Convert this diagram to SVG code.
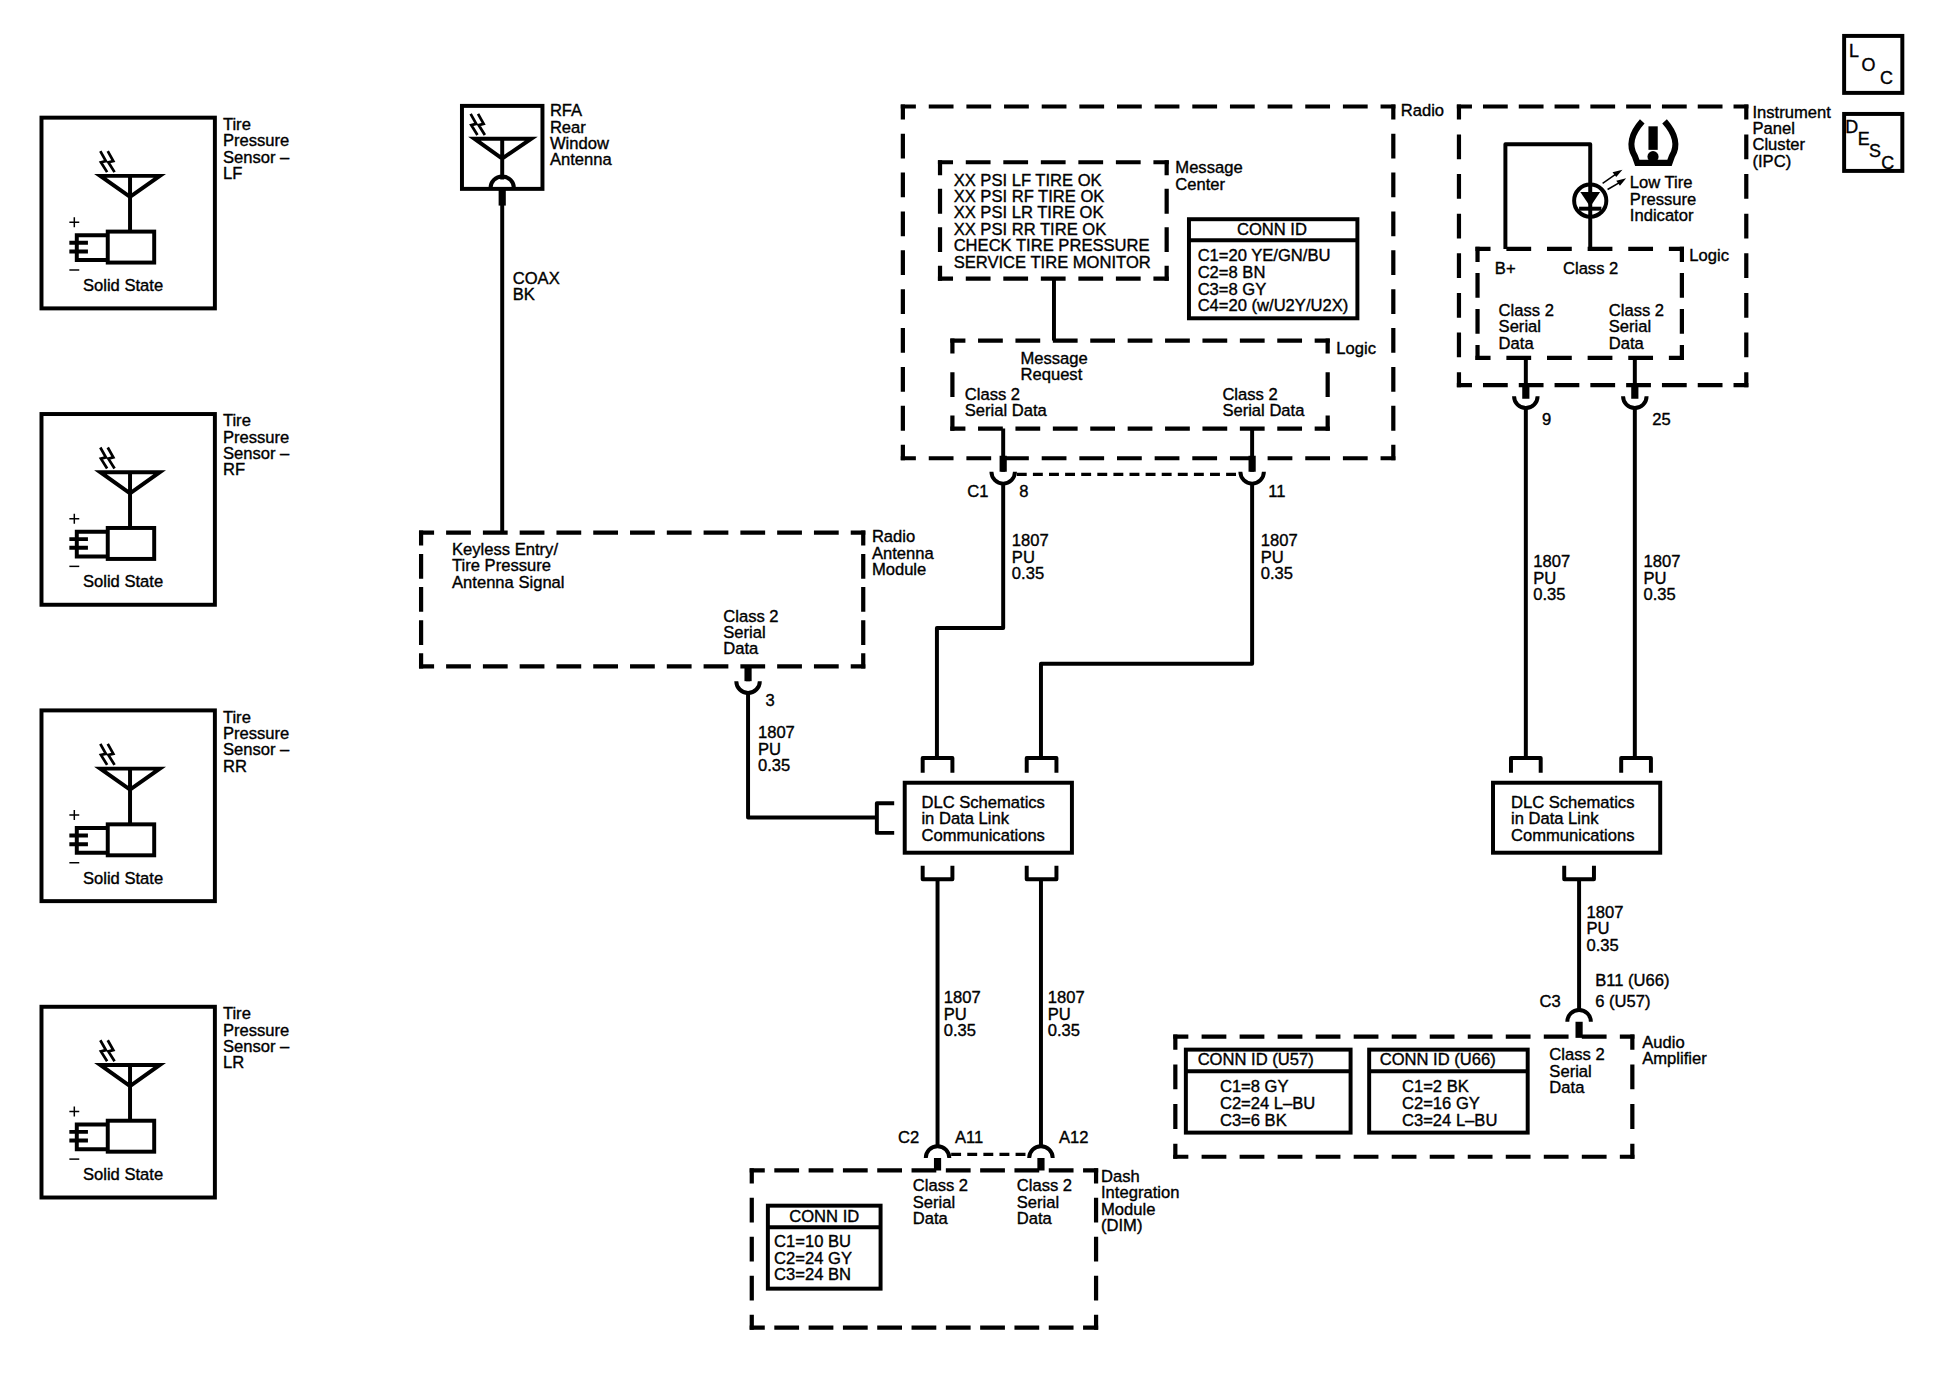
<svg xmlns="http://www.w3.org/2000/svg" xmlns:xlink="http://www.w3.org/1999/xlink" width="1942" height="1376" viewBox="0 0 1942 1376">
<style>
text{font-family:"Liberation Sans",Arial,sans-serif;font-size:13.4px;fill:#000;stroke:#000;stroke-width:.3px}
.ln{fill:none;stroke:#000;stroke-width:3.2}
.box{fill:#fff;stroke:#000;stroke-width:3.2}
.d{fill:none;stroke:#000;stroke-width:3.4;stroke-dashoffset:7.8}
.w{fill:none;stroke:#000;stroke-width:3.2;stroke-linejoin:round}
.th{fill:none;stroke:#000;stroke-width:5.8}
.s{fill:none;stroke:#000;stroke-width:2.2}
.t{fill:none;stroke:#000;stroke-width:1.2}
.dl{fill:none;stroke:#000;stroke-width:2.6;stroke-dasharray:8 5}
.b{font-size:14.5px}
</style>
<defs>
<path id="ltn" class="s" d="M2 0L6.500 8L2.500 9L7.500 17M8 0L12.500 8L8.500 9L13.500 17"/>
<g id="sensorbody">
<rect class="box" x="33.500" y="95" width="140" height="154"/>
<use xlink:href="#ltn" href="#ltn" x="79" y="122"/>
<path class="ln" d="M81 142H129L105 159ZM105 142V187"/>
<rect class="box" x="87" y="187" width="37.500" height="25"/>
<path class="ln" d="M87 190H62V210H87M56 196H71M56 203H71"/>
<path class="t" d="M56 179.500H64M60 175.500V183.500"/>
<path class="t" d="M56 218H64"/>
</g>
<path id="cup" class="w" d="M-9.500 0A9.500 9.500 0 0 0 9.500 0"/>
<path id="cap" class="w" d="M-9.500 0A9.500 9.500 0 0 1 9.500 0"/>
</defs>
<rect width="1942" height="1376" fill="#fff"/>
<g transform="scale(1.2385)">

<g id="sensor-lf"><use xlink:href="#sensorbody" href="#sensorbody"/>
<text x="67" y="235">Solid State</text>
<text y="105"><tspan x="180">Tire</tspan><tspan x="180" dy="13.200">Pressure</tspan><tspan x="180" dy="13.200">Sensor –</tspan><tspan x="180" dy="13.200">LF</tspan></text></g>
<g id="sensor-rf" transform="translate(0 239.300)"><use xlink:href="#sensorbody" href="#sensorbody"/>
<text x="67" y="235">Solid State</text>
<text y="105"><tspan x="180">Tire</tspan><tspan x="180" dy="13.200">Pressure</tspan><tspan x="180" dy="13.200">Sensor –</tspan><tspan x="180" dy="13.200">RF</tspan></text></g>
<g id="sensor-rr" transform="translate(0 478.600)"><use xlink:href="#sensorbody" href="#sensorbody"/>
<text x="67" y="235">Solid State</text>
<text y="105"><tspan x="180">Tire</tspan><tspan x="180" dy="13.200">Pressure</tspan><tspan x="180" dy="13.200">Sensor –</tspan><tspan x="180" dy="13.200">RR</tspan></text></g>
<g id="sensor-lr" transform="translate(0 717.900)"><use xlink:href="#sensorbody" href="#sensorbody"/>
<text x="67" y="235">Solid State</text>
<text y="105"><tspan x="180">Tire</tspan><tspan x="180" dy="13.200">Pressure</tspan><tspan x="180" dy="13.200">Sensor –</tspan><tspan x="180" dy="13.200">LR</tspan></text></g>

<g id="rfa-antenna">
<rect class="box" x="373" y="85.500" width="65" height="67"/>
<use xlink:href="#ltn" href="#ltn" x="378" y="92"/>
<path class="ln" d="M383 112H429L405.500 128ZM405.500 112V145"/>
<path class="w" d="M396 152A9.500 9.500 0 0 1 415 152"/>
<text y="94"><tspan x="444">RFA</tspan><tspan x="444" dy="13.200">Rear</tspan><tspan x="444" dy="13.200">Window</tspan><tspan x="444" dy="13.200">Antenna</tspan></text>
</g>

<g id="radio">
<path class="d" stroke-dasharray="20 10.400" d="M727.300 86H1126.700M727.300 370H1126.700"/>
<path class="d" stroke-dasharray="20 11.400" d="M729 84.300V371.700M1125 84.300V371.700"/>
<text x="1131" y="94">Radio</text>
</g>
<g id="message-center">
<path class="d" stroke-dasharray="20 10.300" d="M757.300 131H943.700M757.300 225H943.700"/>
<path class="d" stroke-dasharray="20 11" d="M759 129.300V226.700M942 129.300V226.700"/>
<text y="150"><tspan x="770">XX PSI LF TIRE OK</tspan><tspan x="770" dy="13.200">XX PSI RF TIRE OK</tspan><tspan x="770" dy="13.200">XX PSI LR TIRE OK</tspan><tspan x="770" dy="13.200">XX PSI RR TIRE OK</tspan><tspan x="770" dy="13.200">CHECK TIRE PRESSURE</tspan><tspan x="770" dy="13.200">SERVICE TIRE MONITOR</tspan></text>
<text y="140"><tspan x="949">Message</tspan><tspan x="949" dy="13.200">Center</tspan></text>
</g>
<g id="radio-conn-id">
<rect class="box" x="960" y="177" width="136" height="80"/>
<path class="ln" d="M960 194H1096"/>
<text x="1027" y="190" text-anchor="middle">CONN ID</text>
<text y="211"><tspan x="967">C1=20 YE/GN/BU</tspan><tspan x="967" dy="13.400">C2=8 BN</tspan><tspan x="967" dy="13.400">C3=8 GY</tspan><tspan x="967" dy="13.400">C4=20 (w/U2Y/U2X)</tspan></text>
</g>
<g id="radio-logic">
<path class="d" stroke-dasharray="20 10.200" d="M767.300 275H1073.700M767.300 346H1073.700"/>
<path class="d" stroke-dasharray="20 15" d="M769 273.300V347.700M1072 273.300V347.700"/>
<text x="1079" y="286">Logic</text>
<text y="294"><tspan x="824">Message</tspan><tspan x="824" dy="13.200">Request</tspan></text>
<text y="323"><tspan x="779">Class 2</tspan><tspan x="779" dy="13.200">Serial Data</tspan></text>
<text y="323"><tspan x="987">Class 2</tspan><tspan x="987" dy="13.200">Serial Data</tspan></text>
</g>

<g id="antenna-module">
<path class="d" stroke-dasharray="20 9.700" d="M338.300 430H698.700M338.300 538H698.700"/>
<path class="d" stroke-dasharray="20 6.750" d="M340 428.300V539.700M697 428.300V539.700"/>
<text y="448"><tspan x="365">Keyless Entry/</tspan><tspan x="365" dy="13.200">Tire Pressure</tspan><tspan x="365" dy="13.200">Antenna Signal</tspan></text>
<text y="502"><tspan x="584">Class 2</tspan><tspan x="584" dy="13.200">Serial</tspan><tspan x="584" dy="13.200">Data</tspan></text>
<text y="438"><tspan x="704">Radio</tspan><tspan x="704" dy="13.200">Antenna</tspan><tspan x="704" dy="13.200">Module</tspan></text>
</g>

<g id="dlc-left">
<rect class="box" x="730.500" y="632" width="135" height="56.500"/>
<text y="652"><tspan x="744">DLC Schematics</tspan><tspan x="744" dy="13.400">in Data Link</tspan><tspan x="744" dy="13.400">Communications</tspan></text>
</g>
<g id="dlc-right">
<rect class="box" x="1205.500" y="632" width="135" height="56.500"/>
<text y="652"><tspan x="1220">DLC Schematics</tspan><tspan x="1220" dy="13.400">in Data Link</tspan><tspan x="1220" dy="13.400">Communications</tspan></text>
</g>

<g id="dim">
<path class="d" stroke-dasharray="20 7.700" d="M605.300 945H886.700M605.300 1072H886.700"/>
<path class="d" stroke-dasharray="20 11.500" d="M607 943.300V1073.700M885 943.300V1073.700"/>
<text y="962"><tspan x="737">Class 2</tspan><tspan x="737" dy="13.200">Serial</tspan><tspan x="737" dy="13.200">Data</tspan></text>
<text y="962"><tspan x="821">Class 2</tspan><tspan x="821" dy="13.200">Serial</tspan><tspan x="821" dy="13.200">Data</tspan></text>
<text y="954.500"><tspan x="889">Dash</tspan><tspan x="889" dy="13.200">Integration</tspan><tspan x="889" dy="13.200">Module</tspan><tspan x="889" dy="13.200">(DIM)</tspan></text>
</g>
<g id="dim-conn-id">
<rect class="box" x="620" y="973.500" width="91" height="67"/>
<path class="ln" d="M620 991H711"/>
<text x="665.500" y="987" text-anchor="middle">CONN ID</text>
<text y="1007"><tspan x="625">C1=10 BU</tspan><tspan x="625" dy="13.400">C2=24 GY</tspan><tspan x="625" dy="13.400">C3=24 BN</tspan></text>
</g>

<g id="ipc">
<path class="d" stroke-dasharray="20 8.900" d="M1176.300 86H1411.700M1176.300 311H1411.700"/>
<path class="d" stroke-dasharray="20 12" d="M1178 84.300V312.700M1410 84.300V312.700"/>
<text y="95"><tspan x="1415">Instrument</tspan><tspan x="1415" dy="13.200">Panel</tspan><tspan x="1415" dy="13.200">Cluster</tspan><tspan x="1415" dy="13.200">(IPC)</tspan></text>
</g>
<g id="low-tire-indicator">
<path d="M1326 98C1317 108 1315 118 1320 126L1322 131.500H1348L1350 126C1355 118 1353 108 1344 98" fill="none" stroke="#000" stroke-width="5"/>
<path d="M1331 102H1338.500V121H1331Z"/>
<circle cx="1334.700" cy="126.500" r="4.500"/>
<circle cx="1284" cy="162" r="13" class="ln"/>
<path d="M1276 155H1292L1284 167Z"/>
<path class="ln" d="M1275 168.500H1293"/>
<path class="t" d="M1294 148L1307 139M1298 153L1310 146"/>
<path d="M1310 137L1302 139L1305 143ZM1313 144L1305 146L1308 150Z"/>
<text y="152"><tspan x="1316">Low Tire</tspan><tspan x="1316" dy="13.300">Pressure</tspan><tspan x="1316" dy="13.300">Indicator</tspan></text>
</g>
<g id="ipc-logic">
<path class="d" stroke-dasharray="20 12.800" d="M1191.300 201H1359.700M1191.300 289H1359.700"/>
<path class="d" stroke-dasharray="20 9" d="M1193 199.300V290.700M1358 199.300V290.700"/>
<text x="1364" y="211">Logic</text>
<text x="1207" y="221">B+</text>
<text x="1262" y="221">Class 2</text>
<text y="255"><tspan x="1210">Class 2</tspan><tspan x="1210" dy="13.200">Serial</tspan><tspan x="1210" dy="13.200">Data</tspan></text>
<text y="255"><tspan x="1299">Class 2</tspan><tspan x="1299" dy="13.200">Serial</tspan><tspan x="1299" dy="13.200">Data</tspan></text>
</g>

<g id="audio-amplifier">
<path class="d" stroke-dasharray="20 10.700" d="M947.300 837H1319.700M947.300 934H1319.700"/>
<path class="d" stroke-dasharray="20 12" d="M949 835.300V935.700M1318 835.300V935.700"/>
<text y="856"><tspan x="1251">Class 2</tspan><tspan x="1251" dy="13.200">Serial</tspan><tspan x="1251" dy="13.200">Data</tspan></text>
<text y="846"><tspan x="1326">Audio</tspan><tspan x="1326" dy="13.200">Amplifier</tspan></text>
</g>
<g id="u57-conn-id">
<rect class="box" x="957.500" y="847.500" width="133" height="67"/>
<path class="ln" d="M957.500 865H1090.500"/>
<text x="967" y="860">CONN ID (U57)</text>
<text y="882"><tspan x="985">C1=8 GY</tspan><tspan x="985" dy="13.400">C2=24 L–BU</tspan><tspan x="985" dy="13.400">C3=6 BK</tspan></text>
</g>
<g id="u66-conn-id">
<rect class="box" x="1105.500" y="847.500" width="128" height="67"/>
<path class="ln" d="M1105.500 865H1233.500"/>
<text x="1114" y="860">CONN ID (U66)</text>
<text y="882"><tspan x="1132">C1=2 BK</tspan><tspan x="1132" dy="13.400">C2=16 GY</tspan><tspan x="1132" dy="13.400">C3=24 L–BU</tspan></text>
</g>

<g id="loc"><rect class="box" x="1489" y="29" width="47" height="46"/>
<text class="b" x="1493" y="46">L</text><text class="b" x="1503" y="57">O</text><text class="b" x="1518" y="68">C</text></g>
<g id="desc"><rect class="box" x="1489" y="92" width="47" height="46"/>
<text class="b" x="1490" y="107">D</text><text class="b" x="1500" y="117">E</text><text class="b" x="1509" y="127">S</text><text class="b" x="1519" y="136.500">C</text></g>

<g id="connectors">
<path class="w" d="M405.500 152V430"/>
<path class="th" d="M405.500 152V166"/>
<path class="w" d="M851 225V275"/>
<path class="w" d="M810 346V381M810 390V507H756.500V612M745 624V612H769V624"/>
<path class="w" d="M1011 346V381M1011 390V536H840.500V612M829 624V612H853V624"/>
<path class="th" d="M810 368V381M1011 368V381"/>
<use xlink:href="#cup" href="#cup" x="810" y="381"/>
<use xlink:href="#cup" href="#cup" x="1011" y="381"/>
<path class="dl" d="M821 383H1001"/>
<path class="w" d="M604 538V550M604 559V660H708M722 648.500H708V672.500H722"/>
<path class="th" d="M604 538V550"/>
<use xlink:href="#cup" href="#cup" x="604" y="550"/>
<path class="w" d="M745 699V710H769V699M757 710V926"/>
<path class="w" d="M829 699V710H853V699M840.500 710V926"/>
<use xlink:href="#cap" href="#cap" x="757" y="935"/>
<use xlink:href="#cap" href="#cap" x="840.500" y="935"/>
<path class="th" d="M757 935V945M840.500 935V945"/>
<path class="dl" d="M768 932H830"/>
<path class="w" d="M1215.500 201V116.500H1284V201"/>
<path class="w" d="M1232 289V320M1232 329V612M1220 624V612H1244V624"/>
<path class="w" d="M1320 289V320M1320 329V612M1309 624V612H1333V624"/>
<path class="th" d="M1232 311V322M1320 311V322"/>
<use xlink:href="#cup" href="#cup" x="1232" y="320"/>
<use xlink:href="#cup" href="#cup" x="1320" y="320"/>
<path class="w" d="M1263 699V710H1287V699M1275 710V816"/>
<use xlink:href="#cap" href="#cap" x="1275" y="825"/>
<path class="th" d="M1275 825V838"/>
</g>

<g id="connector-labels">
<text y="229"><tspan x="414">COAX</tspan><tspan x="414" dy="13.200">BK</tspan></text>
<text x="781" y="401">C1</text><text x="823" y="401">8</text><text x="1024" y="401">11</text>
<text y="441"><tspan x="817">1807</tspan><tspan x="817" dy="13.400">PU</tspan><tspan x="817" dy="13.400">0.35</tspan></text>
<text y="441"><tspan x="1018">1807</tspan><tspan x="1018" dy="13.400">PU</tspan><tspan x="1018" dy="13.400">0.35</tspan></text>
<text x="618" y="570">3</text>
<text y="596"><tspan x="612">1807</tspan><tspan x="612" dy="13.400">PU</tspan><tspan x="612" dy="13.400">0.35</tspan></text>
<text y="810"><tspan x="762">1807</tspan><tspan x="762" dy="13.400">PU</tspan><tspan x="762" dy="13.400">0.35</tspan></text>
<text y="810"><tspan x="846">1807</tspan><tspan x="846" dy="13.400">PU</tspan><tspan x="846" dy="13.400">0.35</tspan></text>
<text x="725" y="923">C2</text><text x="771" y="923">A11</text><text x="855" y="923">A12</text>
<text x="1245" y="343">9</text><text x="1334" y="343">25</text>
<text y="458"><tspan x="1238">1807</tspan><tspan x="1238" dy="13.400">PU</tspan><tspan x="1238" dy="13.400">0.35</tspan></text>
<text y="458"><tspan x="1327">1807</tspan><tspan x="1327" dy="13.400">PU</tspan><tspan x="1327" dy="13.400">0.35</tspan></text>
<text y="741"><tspan x="1281">1807</tspan><tspan x="1281" dy="13.400">PU</tspan><tspan x="1281" dy="13.400">0.35</tspan></text>
<text x="1288" y="796">B11 (U66)</text><text x="1288" y="813">6 (U57)</text><text x="1243" y="813">C3</text>
</g>
</g>
</svg>
